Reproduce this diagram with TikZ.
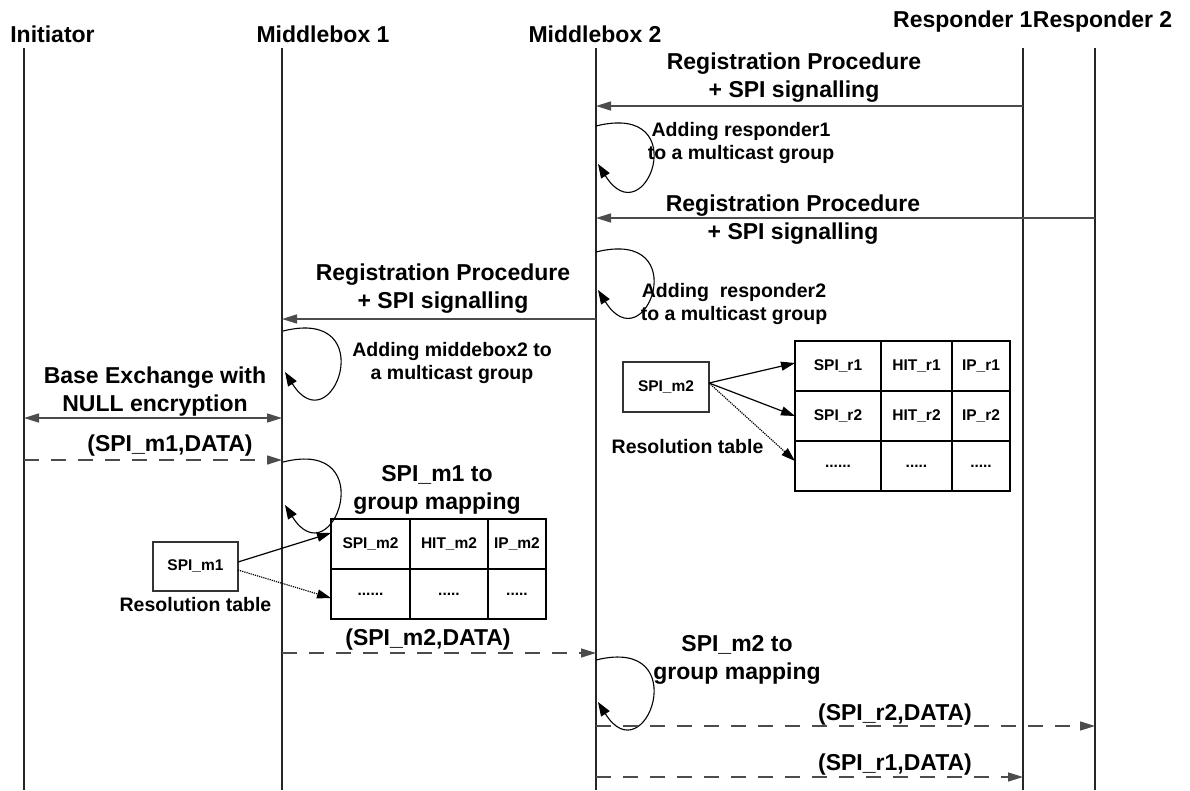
\documentclass[tikz,border=0pt]{standalone}
\usepackage{fontspec}
\setmainfont{Liberation Sans}
\usetikzlibrary{arrows.meta, positioning}

\begin{document}
\begin{tikzpicture}[x=1pt, y=-1pt,
  hdr/.style={font=\bfseries\fontsize{23}{28}\selectfont, inner sep=0pt},
  lbl/.style={font=\bfseries\fontsize{23}{28}\selectfont, align=center, inner sep=0pt},
  note/.style={font=\bfseries\fontsize{19.5}{23}\selectfont, align=center, inner sep=0pt},
  life/.style={line width=1.3pt, black!85},
  msg/.style={line width=1.5pt, black!70, -{Triangle[length=15pt, width=9pt]}},
  data/.style={msg, dash pattern=on 15pt off 12pt},
  selfarr/.style={line width=1.1pt, black, -{Triangle[length=14pt, width=10pt]}},
  cell/.style={draw, line width=1.4pt, minimum height=50pt, inner sep=0pt, outer sep=0pt,
    font=\bfseries\fontsize{15.5}{18}\selectfont},
  keybox/.style={cell, draw=black!80, line width=1.2pt, minimum width=86pt},
  ptr/.style={line width=1.2pt, -{Triangle[length=14pt, width=9pt]}},
]
\useasboundingbox (0,0) rectangle (1190,790);

% entities and lifelines
\node[hdr, anchor=base] (hini) at (52.5,42) {Initiator};
\node[hdr, anchor=base] (hmb1) at (323,42) {Middlebox 1};
\node[hdr, anchor=base] (hmb2) at (595,42) {Middlebox 2};
\node[hdr, anchor=base west] (hrs1) at (893,27) {Responder 1};
\node[hdr, anchor=base west] (hrs2) at (hrs1.base east) {Responder 2};
\foreach \n/\x in {ini/24, mb1/282, mb2/596, rs1/1023, rs2/1095} {
  \coordinate (\n) at (\x,48);
  \coordinate (\n-end) at (\x,790);
  \draw[life] (\n) -- (\n-end);
}

% responder 1 registers at middlebox 2
\coordinate (reg1a) at (1023,106);
\coordinate (reg1b) at (596,106);
\draw[msg] (reg1a) -- (reg1b);
\node[lbl] (reg1) at (794,77.5) {Registration Procedure\\+ SPI signalling};
\coordinate (add1a) at (596,126);
\coordinate (add1b) at (598,164);
\draw[selfarr] (add1a) .. controls +(100,-25) and +(47,75) .. (add1b);
\node[note] (add1) at (741,143) {Adding responder1\\to a multicast group};

% responder 2 registers at middlebox 2
\coordinate (reg2a) at (1095,218);
\coordinate (reg2b) at (596,218);
\draw[msg] (reg2a) -- (reg2b);
\node[lbl] (reg2) at (793,219.6) {Registration Procedure\\+ SPI signalling};
\coordinate (add2a) at (596,252);
\coordinate (add2b) at (598,290);
\draw[selfarr] (add2a) .. controls +(100,-25) and +(47,75) .. (add2b);
\node[note] (add2) at (734,304) {Adding\ \ responder2\\to a multicast group};

% middlebox 2 registers at middlebox 1
\coordinate (reg3a) at (596,319);
\coordinate (reg3b) at (282,319);
\draw[msg] (reg3a) -- (reg3b);
\node[lbl] (reg3) at (443,289) {Registration Procedure\\+ SPI signalling};
\coordinate (add3a) at (283,331);
\coordinate (add3b) at (285,372);
\draw[selfarr] (add3a) .. controls +(100,-25) and +(47,75) .. (add3b);
\node[note] (add3) at (452,363) {Adding middebox2 to\\a multicast group};

% base exchange
\coordinate (bexa) at (24,418);
\coordinate (bexb) at (282,418);
\draw[msg, {Triangle[length=15pt, width=9pt]}-{Triangle[length=15pt, width=9pt]}] (bexa) -- (bexb);
\node[lbl] (bex) at (155,392) {Base Exchange with\\NULL encryption};

% data from the initiator
\coordinate (d1a) at (24,460);
\coordinate (d1b) at (282,460);
\draw[data] (d1a) -- (d1b);
\node[lbl, anchor=base] (d1) at (170,451) {(SPI\_m1,DATA)};
\coordinate (map1a) at (283,462);
\coordinate (map1b) at (285,505);
\draw[selfarr] (map1a) .. controls +(100,-25) and +(47,75) .. (map1b);
\node[lbl] (map1) at (437,490) {SPI\_m1 to\\group mapping};

% resolution table of middlebox 1
\node[keybox, minimum width=85pt, minimum height=49pt] (spim1) at (195.5,566.5) {SPI\_m1};
\node[note, below=6pt of spim1] (res1) {Resolution table};
\node[cell, minimum width=79pt, anchor=north west] (spim2c) at (331,519) {SPI\_m2};
\node[cell, minimum width=78pt, right=0pt of spim2c] (hitm2) {HIT\_m2};
\node[cell, minimum width=58pt, right=0pt of hitm2] (ipm2) {IP\_m2};
\node[cell, minimum width=79pt, below=0pt of spim2c] (dotm1) {......};
\node[cell, minimum width=78pt, right=0pt of dotm1] (dotm2) {.....};
\node[cell, minimum width=58pt, right=0pt of dotm2] (dotm3) {.....};
\draw[ptr] ([yshift=4.5pt]spim1.east) -- ([yshift=11pt]spim2c.west);
\draw[ptr, densely dotted] ([yshift=-3.5pt]spim1.east) -- ([yshift=-4pt]dotm1.west);

% data to middlebox 2
\coordinate (d2a) at (282,653);
\coordinate (d2b) at (596,653);
\draw[data] (d2a) -- (d2b);
\node[lbl, anchor=base] (d2) at (428,645) {(SPI\_m2,DATA)};
\coordinate (map2a) at (596,660);
\coordinate (map2b) at (598,702);
\draw[selfarr] (map2a) .. controls +(100,-25) and +(47,75) .. (map2b);
\node[lbl] (map2) at (737,660) {SPI\_m2 to\\group mapping};

% resolution table of middlebox 2
\node[keybox] (spim2) at (666,387) {SPI\_m2};
\node[note, anchor=base] (res2) at (687.5,453) {Resolution table};
\node[cell, minimum width=86pt, anchor=north west] (spir1) at (795,341) {SPI\_r1};
\node[cell, minimum width=71pt, right=0pt of spir1] (hitr1) {HIT\_r1};
\node[cell, minimum width=58pt, right=0pt of hitr1] (ipr1) {IP\_r1};
\node[cell, minimum width=86pt, below=0pt of spir1] (spir2) {SPI\_r2};
\node[cell, minimum width=71pt, right=0pt of spir2] (hitr2) {HIT\_r2};
\node[cell, minimum width=58pt, right=0pt of hitr2] (ipr2) {IP\_r2};
\node[cell, minimum width=86pt, below=0pt of spir2] (dotr1) {......};
\node[cell, minimum width=71pt, right=0pt of dotr1] (dotr2) {.....};
\node[cell, minimum width=58pt, right=0pt of dotr2] (dotr3) {.....};
\draw[ptr] ([yshift=4pt]spim2.east) -- ([yshift=3pt]spir1.west);
\draw[ptr] ([yshift=4pt]spim2.east) -- (spir2.west);
\draw[ptr, densely dotted] ([yshift=4pt]spim2.east) -- ([yshift=5pt]dotr1.west);

% data to the responders
\coordinate (d3a) at (596,726);
\coordinate (d3b) at (1095,726);
\draw[data] (d3a) -- (d3b);
\node[lbl, anchor=base] (d3) at (895,720) {(SPI\_r2,DATA)};
\coordinate (d4a) at (596,777);
\coordinate (d4b) at (1023,777);
\draw[data] (d4a) -- (d4b);
\node[lbl, anchor=base] (d4) at (895,770) {(SPI\_r1,DATA)};
\end{tikzpicture}
\end{document}
